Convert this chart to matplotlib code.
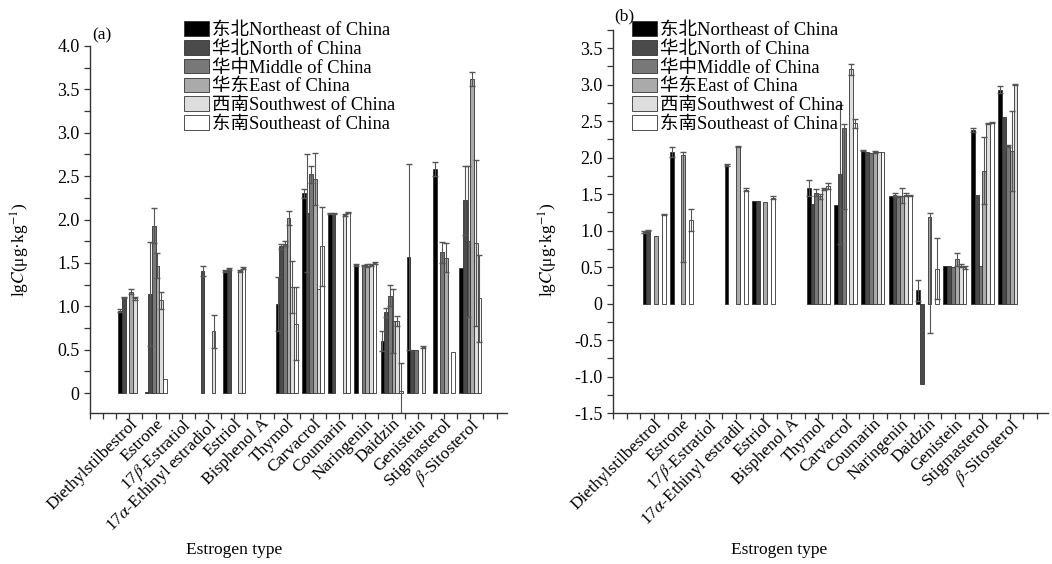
import numpy as np
import matplotlib
matplotlib.use("Agg")
import matplotlib.pyplot as plt
from matplotlib.ticker import MultipleLocator, FuncFormatter

plt.rcParams['font.family'] = ['Liberation Serif', 'Noto Sans CJK SC']
plt.rcParams['mathtext.fontset'] = 'stix'
plt.rcParams['font.size'] = 12

nan = np.nan

cats_a = ['Diethylstilbestrol', 'Estrone', r'17$\beta$-Estratiol', r'17$\alpha$-Ethinyl estradiol',
          'Estriol', 'Bisphenol A', 'Thymol', 'Carvacrol', 'Coumarin', 'Naringenin',
          'Daidzin', 'Genistein', 'Stigmasterol', r'$\beta$-Sitosterol']
cats_b = ['Diethylstilbestrol', 'Estrone', r'17$\beta$-Estratiol', r'17$\alpha$-Ethinyl estradil',
          'Estriol', 'Bisphenol A', 'Thymol', 'Carvacrol', 'Coumarin', 'Naringenin',
          'Daidzin', 'Genistein', 'Stigmasterol', r'$\beta$-Sitosterol']

regions = ['东北Northeast of China', '华北North of China', '华中Middle of China',
           '华东East of China', '西南Southwest of China', '东南Southeast of China']
colors = ['#000000', '#4a4a4a', '#787878', '#aaaaaa', '#dedede', '#ffffff']

# panel (a) values, lgC
ne_a = [0.95, 0.01, nan, nan, 1.41, nan, 1.03, 2.30, 2.07, 1.48, 0.60, 1.57, 2.58, 1.44]
n_a = [1.10, 1.14, nan, 1.41, 1.43, nan, 1.69, 2.07, 2.07, nan, 0.93, 0.50, nan, 2.22]
m_a = [nan, 1.93, nan, nan, nan, nan, 1.72, 2.52, nan, 1.47, 1.12, 0.50, 1.62, 1.75]
e_a = [1.17, 1.47, nan, nan, nan, nan, 2.02, 2.47, nan, 1.47, 0.83, nan, 1.56, 3.62]
sw_a = [1.09, 1.07, nan, 0.71, 1.41, nan, 1.22, 1.20, 2.05, 1.48, 0.83, 0.53, nan, 1.73]
se_a = [nan, 0.16, nan, nan, 1.44, nan, 0.80, 1.69, 2.08, 1.50, 0.02, nan, 0.47, 1.09]

ne_a_err = [0.02, 0, 0, 0, 0.01, 0, 0.31, 0.05, 0.01, 0.01, 0.12, 1.07, 0.08, 0]
n_a_err = [0.01, 0.60, 0, 0.06, 0.01, 0, 0.03, 0.68, 0.01, 0, 0.05, 0, 0, 0.40]
m_a_err = [0, 0.20, 0, 0, 0, 0, 0.03, 0.10, 0, 0.01, 0.12, 0, 0.12, 0.87]
e_a_err = [0.03, 0.14, 0, 0, 0, 0, 0.08, 0.30, 0, 0.02, 0.37, 0, 0.17, 0.08]
sw_a_err = [0.02, 0.10, 0, 0.19, 0.01, 0, 0.30, 0, 0.01, 0.01, 0.06, 0.01, 0, 0.96]
se_a_err = [0, 0, 0, 0, 0.01, 0, 0.42, 0.46, 0.01, 0.01, 0.33, 0, 0, 0.50]

# panel (b) values, lgC
ne_b = [0.98, 2.08, nan, 1.90, 1.41, nan, 1.59, 1.35, 2.10, 1.48, 0.18, 0.52, 2.38, 2.93]
n_b = [1.00, nan, nan, nan, 1.41, nan, 1.37, 1.77, 2.08, 1.49, -1.10, 0.52, 1.49, 2.56]
m_b = [nan, nan, nan, nan, nan, nan, 1.52, 2.41, 2.07, 1.47, nan, 0.50, 0.51, 2.16]
e_b = [0.92, 2.04, nan, 2.15, 1.39, nan, 1.47, nan, 2.08, 1.48, 1.18, 0.61, 1.82, 2.09]
sw_b = [nan, nan, nan, nan, nan, nan, 1.57, 3.21, 2.08, 1.49, nan, 0.52, 2.47, 3.00]
se_b = [1.22, 1.15, nan, 1.56, 1.45, nan, 1.61, 2.47, 2.08, 1.48, 0.48, 0.50, 2.48, nan]

ne_b_err = [0.01, 0.07, 0, 0.02, 0, 0, 0.11, 0, 0.01, 0, 0.14, 0, 0.03, 0.05]
n_b_err = [0.01, 0, 0, 0, 0, 0, 0, 0.95, 0, 0.02, 0, 0, 0, 0]
m_b_err = [0, 0, 0, 0, 0, 0, 0.05, 0.05, 0, 0.01, 0, 0, 0, 0.02]
m_b_lo = [0, 0, 0, 0, 0, 0, 0.05, 1.11, 0, 0.01, 0, 0, 0, 0.02]
e_b_err = [0, 0.04, 0, 0.01, 0, 0, 0.03, 0, 0.01, 0.10, 0.06, 0.09, 0.46, 0.55]
e_b_lo = [0, 1.47, 0, 0.01, 0, 0, 0.03, 0, 0.01, 0.10, 1.58, 0.09, 0.46, 0.55]
sw_b_err = [0, 0, 0, 0, 0, 0, 0.02, 0.07, 0, 0.02, 0, 0.02, 0.01, 0.01]
se_b_err = [0.01, 0.15, 0, 0.02, 0.02, 0, 0.04, 0.06, 0, 0.01, 0.42, 0.02, 0.01, 0]


def draw(ax, cats, series, errs, lows):
    x = np.arange(len(cats))
    w = 0.14
    handles = []
    for k, (vals, err, lo) in enumerate(zip(series, errs, lows)):
        vals = np.array(vals, dtype=float)
        pos = x + (k - 2.5) * w
        ok = ~np.isnan(vals)
        h = ax.bar(pos[ok], vals[ok], width=w, color=colors[k], edgecolor='#333333',
                   linewidth=0.6, zorder=2)
        handles.append(h)
        err = np.array(err, dtype=float)
        lo = np.array(lo, dtype=float)
        has = ok & ((err > 0) | (lo > 0))
        if has.any():
            ax.errorbar(pos[has], vals[has], yerr=[lo[has], err[has]], fmt='none',
                        ecolor='#555555', elinewidth=0.8, capsize=2.2, capthick=1.0, zorder=3)
    ax.set_xticks(x)
    ax.set_xticklabels(cats, rotation=45, ha='right', rotation_mode='anchor', fontsize=12.5)
    ax.xaxis.set_minor_locator(MultipleLocator(0.5))
    ax.set_xlim(-1.5, 14.4)
    for s in ['top', 'right']:
        ax.spines[s].set_visible(False)
    for s in ['left', 'bottom']:
        ax.spines[s].set_color('#333333')
        ax.spines[s].set_linewidth(1.0)
    ax.yaxis.set_major_locator(MultipleLocator(0.5))
    ax.yaxis.set_minor_locator(MultipleLocator(0.25))
    ax.yaxis.set_major_formatter(FuncFormatter(lambda v, p: '0' if abs(v) < 1e-9 else f'{v:.1f}'))
    ax.tick_params(axis='both', which='both', direction='out', length=4, width=0.9, colors='#333333',
                   labelcolor='black')
    ax.tick_params(axis='y', labelsize=13)
    ax.tick_params(axis='x', pad=-2)
    return handles


fig = plt.figure(figsize=(10.52, 5.64), dpi=100)
ax1 = fig.add_axes([90 / 1052, 151 / 564, 417 / 1052, 367 / 564])
ax2 = fig.add_axes([613 / 1052, 151 / 564, 435 / 1052, 383 / 564])

h1 = draw(ax1, cats_a, [ne_a, n_a, m_a, e_a, sw_a, se_a],
          [ne_a_err, n_a_err, m_a_err, e_a_err, sw_a_err, se_a_err],
          [ne_a_err, n_a_err, m_a_err, e_a_err, sw_a_err, se_a_err])
ax1.set_ylim(-0.23, 4.0)

h2 = draw(ax2, cats_b, [ne_b, n_b, m_b, e_b, sw_b, se_b],
          [ne_b_err, n_b_err, m_b_err, e_b_err, sw_b_err, se_b_err],
          [ne_b_err, n_b_err, m_b_lo, e_b_lo, sw_b_err, se_b_err])
ax2.set_ylim(-1.5, 3.75)

for ax, h, anchor in [(ax1, h1, (184 / 1052, 1 - 21 / 564)), (ax2, h2, (632 / 1052, 1 - 21 / 564))]:
    fig.legend(h, regions, loc='upper left', bbox_to_anchor=anchor, frameon=False,
               handlelength=1.35, handleheight=0.85, handletextpad=0.15, labelspacing=0.06,
               borderpad=0, borderaxespad=0, fontsize=13.3)

fig.text(92 / 1052, 1 - 35 / 564, '(a)', fontsize=12.5, va='center', ha='left')
fig.text(614 / 1052, 1 - 16 / 564, '(b)', fontsize=12.5, va='center', ha='left')

ylab = r'lg$\mathit{C}$(μg·kg$^{-1}$)'
fig.text(20 / 1052, 1 - 250 / 564, ylab, rotation=90, va='center', ha='center', fontsize=12.5)
fig.text(548 / 1052, 1 - 250 / 564, ylab, rotation=90, va='center', ha='center', fontsize=12.5)

fig.text(234 / 1052, 1 - 550 / 564, 'Estrogen type', ha='center', va='center', fontsize=12.5)
fig.text(779 / 1052, 1 - 550 / 564, 'Estrogen type', ha='center', va='center', fontsize=12.5)

fig.savefig('out.png', dpi=100)
